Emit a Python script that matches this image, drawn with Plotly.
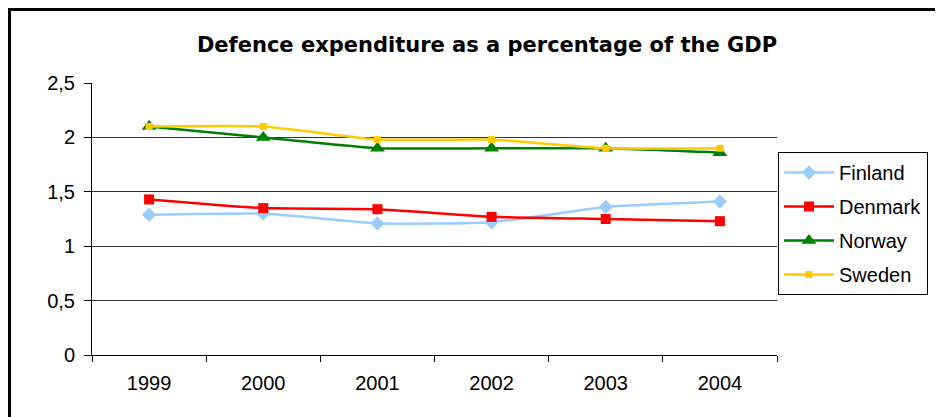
import plotly.graph_objects as go

years = ["1999", "2000", "2001", "2002", "2003", "2004"]
finland = [1.29, 1.30, 1.21, 1.22, 1.36, 1.41]
denmark = [1.43, 1.35, 1.34, 1.27, 1.25, 1.23]
norway = [2.10, 2.00, 1.90, 1.90, 1.90, 1.86]
sweden = [2.10, 2.10, 1.98, 1.98, 1.90, 1.90]
y_ticks = [0, 0.5, 1, 1.5, 2, 2.5]

series = [
    ("Finland", finland, "#99CCFF", "diamond", 11),
    ("Denmark", denmark, "#FF0000", "square", 10),
    ("Norway", norway, "#008000", "triangle-up", 13),
    ("Sweden", sweden, "#FFCC00", "square", 7),
]

fig = go.Figure()
for name, vals, color, sym, size in series:
    fig.add_trace(go.Scatter(
        x=years, y=vals, name=name, legendgroup=name,
        mode="lines+markers",
        line=dict(color=color, width=2.5, shape="spline", smoothing=0.45),
        marker=dict(symbol=sym, size=size, color=color),
    ))

OFF = 8  # page body margin
W, H = 943 - OFF, 417 - OFF
L, R, T, B = 92 - OFF, 777 - OFF, 83 - OFF, 355 - OFF
pw, ph = R - L, B - T

def px(x):
    return (x - OFF - L) / pw

def py(y):
    return (B - (y - OFF)) / ph

fig.update_layout(
    width=W, height=H,
    margin=dict(l=L, r=W - R, t=T, b=H - B, pad=0),
    paper_bgcolor="white", plot_bgcolor="white",
    separators=", ",
    font=dict(family="Liberation Sans, Arial, sans-serif", size=20, color="black"),
    title=dict(text="<b>Defence expenditure as a percentage of the GDP</b>",
               x=(487 - OFF) / W, xanchor="center", y=1 - (45 - OFF) / H, yanchor="middle",
               font=dict(family="DejaVu Sans, Verdana, sans-serif", size=21, color="black")),
    showlegend=True,
    legend=dict(x=px(778), y=py(152), xanchor="left", yanchor="top",
                bordercolor="black", borderwidth=1, bgcolor="white",
                font=dict(size=20, family="Liberation Sans, Arial, sans-serif"),
                itemwidth=50, tracegroupgap=5,
                traceorder="grouped"),
    xaxis=dict(type="category", range=[-0.5, 5.5], showgrid=False,
               showline=True, linecolor="black", linewidth=1,
               ticks="outside", tickson="boundaries", ticklen=6, tickcolor="black",
               tickfont=dict(size=20), ticklabelstandoff=10, fixedrange=True),
    yaxis=dict(range=[0, 2.5], tickvals=y_ticks, showgrid=True, gridcolor="#333333",
               gridwidth=1, showline=True, linecolor="black", linewidth=1,
               ticks="outside", ticklen=7, tickcolor="black", zeroline=False,
               tickfont=dict(size=20), ticklabelstandoff=5),
    shapes=[
        dict(type="line", xref="paper", yref="paper", x0=px(9.5), x1=px(9.5),
             y0=py(9), y1=py(440), line=dict(color="black", width=3)),
        dict(type="line", xref="paper", yref="paper", x0=px(8), x1=px(980),
             y0=py(9.5), y1=py(9.5), line=dict(color="black", width=3)),
    ],
)

fig.write_html("out.html")
